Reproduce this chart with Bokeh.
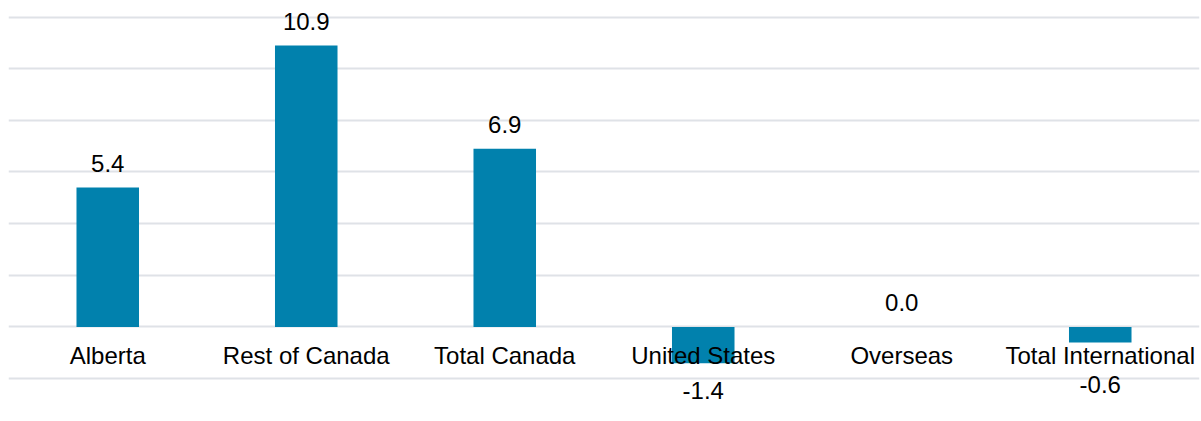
from bokeh.plotting import figure
from bokeh.models import ColumnDataSource, Range1d, FactorRange
from bokeh.core.properties import value
from bokeh.embed import file_html
from bokeh.resources import INLINE

categories = ["Alberta", "Rest of Canada", "Total Canada", "United States", "Overseas", "Total International"]
values = [5.4, 10.9, 6.9, -1.4, 0.0, -0.6]
grid_ticks = [-2, 0, 2, 4, 6, 8, 10, 12]

BAR = "#0181ad"
GRID = "#dfe2e7"
FONT = "Liberation Sans"
FS = "24px"

# value labels sit above positive bars and below negative ones,
# kept clear of the category names under the zero line
label_y = [v if v >= 0 else min(v, -1.2) for v in values]
label_off = [-24 if v >= 0 else 27 for v in values]
label_txt = [f"{v:.1f}" for v in values]

src = ColumnDataSource(dict(cat=categories, val=values, ly=label_y, loff=label_off,
                            txt=label_txt, zero=[0] * len(values)))

p = figure(width=1201, height=421, x_range=FactorRange(*categories, range_padding=0),
           y_range=Range1d(-3.66, 12.64), output_backend="svg", toolbar_location=None,
           min_border_left=8, min_border_right=2, min_border_top=0, min_border_bottom=0)
p.outline_line_color = None
p.background_fill_color = "white"
p.border_fill_color = "white"
p.xaxis.visible = False
p.yaxis.visible = False
p.xgrid.grid_line_color = None
p.ygrid.ticker = grid_ticks
p.ygrid.grid_line_color = GRID
p.ygrid.grid_line_width = 2

p.vbar(x="cat", top="val", bottom=0, width=0.315, source=src, color=BAR, line_color=None)

p.text(x="cat", y="ly", text="txt", y_offset="loff", source=src,
       text_align="center", text_baseline="middle",
       text_font=value(FONT), text_font_size=FS, text_color="#000000")

p.text(x="cat", y="zero", text="cat", y_offset=29, source=src,
       text_align="center", text_baseline="middle",
       text_font=value(FONT), text_font_size=FS, text_color="#000000")

open("out.html", "w").write(file_html(p, INLINE))
